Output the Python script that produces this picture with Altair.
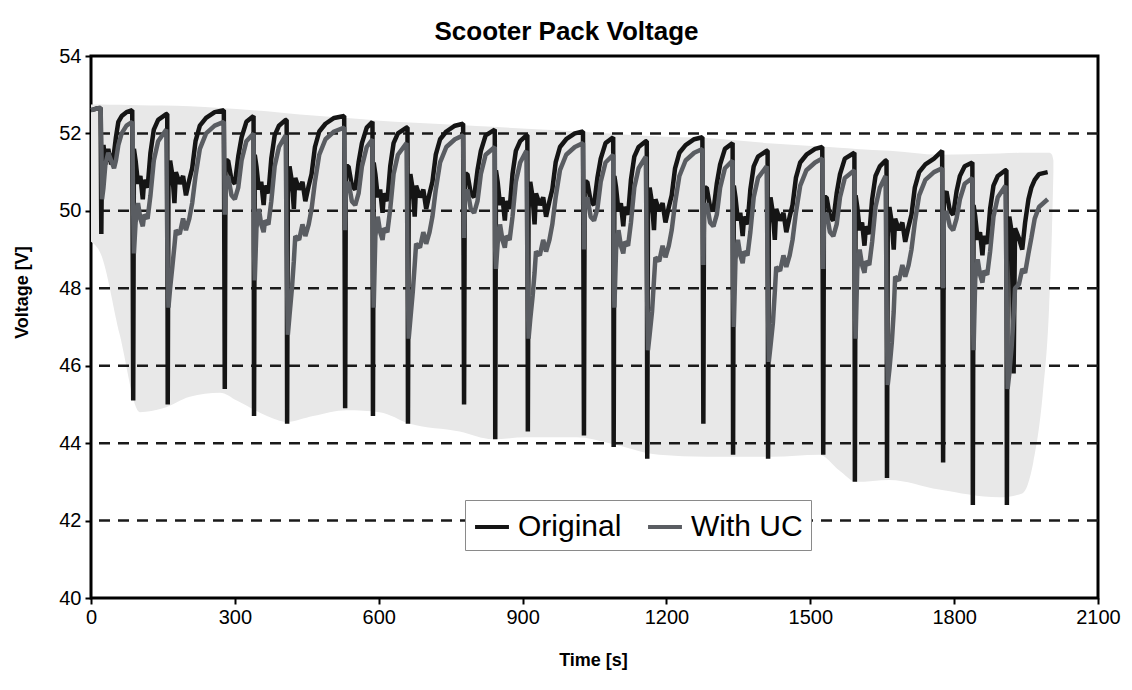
import altair as alt
import pandas as pd

time_s = [
    # start
    0, 6, 14, 20, 21.5, 23, 26, 30, 36, 42, 48, 52, 57, 64, 74, 86,
    # cycle 1
    88, 89.5, 93, 98, 103, 108, 111, 118, 124, 131, 140, 157, 159, 160, 161.5, 165, 170, 174, 177, 185, 192, 198, 205, 211, 218, 227, 240, 258, 277, 279, 280.5, 286, 293, 300, 307, 314, 324, 339,
    # cycle 2
    340, 341.5, 345, 350, 355, 360, 363, 370, 376, 383, 392, 406, 408, 409, 410.5, 414, 419, 423, 426, 434, 441, 447, 454, 460, 467, 476, 489, 507, 528, 530, 531.5, 537, 544, 551, 558, 565, 575, 587,
    # cycle 3
    588, 589.5, 593, 598, 603, 608, 611, 618, 624, 631, 640, 658, 660, 661, 662.5, 666, 671, 675, 678, 686, 693, 699, 706, 712, 719, 728, 741, 759, 776, 778, 779.5, 785, 792, 799, 806, 813, 823, 842,
    # cycle 4
    843, 844.5, 848, 853, 858, 863, 866, 873, 879, 886, 895, 908, 910, 911, 912.5, 916, 921, 925, 928, 936, 943, 949, 956, 962, 969, 978, 991, 1009, 1026, 1028, 1029.5, 1035, 1042, 1049, 1056, 1063, 1073, 1089,
    # cycle 5
    1090, 1091.5, 1095, 1100, 1105, 1110, 1113, 1120, 1126, 1133, 1142, 1157, 1159, 1160, 1161.5, 1165, 1170, 1174, 1177, 1185, 1192, 1198, 1205, 1211, 1218, 1227, 1240, 1258, 1275, 1277, 1278.5, 1284, 1291, 1298, 1305, 1312, 1322, 1338,
    # cycle 6
    1339, 1340.5, 1344, 1349, 1354, 1359, 1362, 1369, 1375, 1382, 1391, 1409, 1411, 1412, 1413.5, 1417, 1422, 1426, 1429, 1437, 1444, 1450, 1457, 1463, 1470, 1479, 1492, 1510, 1525, 1527, 1528.5, 1534, 1541, 1548, 1555, 1562, 1572, 1592,
    # cycle 7
    1593, 1594.5, 1598, 1603, 1608, 1613, 1616, 1623, 1629, 1636, 1645, 1657, 1659, 1660, 1661.5, 1665, 1670, 1674, 1677, 1685, 1692, 1698, 1705, 1711, 1718, 1727, 1740, 1758, 1775, 1777, 1778.5, 1784, 1791, 1798, 1805, 1812, 1822, 1838,
    # cycle 8
    1839, 1840.5, 1844, 1849, 1854, 1859, 1862, 1869, 1875, 1882, 1891, 1907, 1909, 1910, 1911.5, 1915, 1920, 1924, 1927, 1935, 1942, 1948, 1955, 1961, 1968, 1977, 1995,
]

original_v = [
    52.6, 52.62, 52.65, 52.66, 49.4, 51.5, 51.7, 51.2, 51.6, 51.2, 51.5, 51.9, 52.3, 52.45, 52.55, 52.6,
    45.1, 51.6, 51.3, 50.7, 50.9, 50.3, 50.8, 50.6, 51.5, 52.1, 52.35, 52.5, 52.5, 45.0, 50.6, 51.3, 50.9, 50.2, 51.0, 50.7, 50.9, 50.4, 50.8, 51.1, 51.8, 52.2, 52.4, 52.55, 52.6, 45.4, 51.3, 51.3, 50.8, 50.7, 51.4, 51.9, 52.3, 52.45,
    44.7, 51.45, 51.15, 50.55, 50.75, 50.15, 50.65, 50.45, 51.35, 51.95, 52.2, 52.35, 52.35, 44.5, 50.45, 51.15, 50.75, 50.05, 50.85, 50.55, 50.75, 50.25, 50.65, 50.95, 51.65, 52.05, 52.25, 52.4, 52.45, 44.9, 51.15, 51.15, 50.65, 50.55, 51.25, 51.75, 52.15, 52.3,
    44.7, 51.25, 50.95, 50.35, 50.55, 49.95, 50.45, 50.25, 51.15, 51.75, 52.0, 52.15, 52.15, 44.5, 50.25, 50.95, 50.55, 49.85, 50.65, 50.35, 50.55, 50.05, 50.45, 50.75, 51.45, 51.85, 52.05, 52.2, 52.25, 45.0, 50.95, 50.95, 50.45, 50.35, 51.05, 51.55, 51.95, 52.1,
    44.1, 51.05, 50.75, 50.15, 50.35, 49.75, 50.25, 50.05, 50.95, 51.55, 51.8, 51.95, 51.95, 44.3, 50.05, 50.75, 50.35, 49.65, 50.45, 50.15, 50.35, 49.85, 50.25, 50.55, 51.25, 51.65, 51.85, 52.0, 52.05, 44.2, 50.75, 50.75, 50.25, 50.15, 50.85, 51.35, 51.75, 51.9,
    43.9, 50.9, 50.6, 50.0, 50.2, 49.6, 50.1, 49.9, 50.8, 51.4, 51.65, 51.8, 51.8, 43.6, 49.9, 50.6, 50.2, 49.5, 50.3, 50.0, 50.2, 49.7, 50.1, 50.4, 51.1, 51.5, 51.7, 51.85, 51.9, 44.5, 50.6, 50.6, 50.1, 50.0, 50.7, 51.2, 51.6, 51.75,
    43.7, 50.65, 50.35, 49.75, 49.95, 49.35, 49.85, 49.65, 50.55, 51.15, 51.4, 51.55, 51.55, 43.6, 49.65, 50.35, 49.95, 49.25, 50.05, 49.75, 49.95, 49.45, 49.85, 50.15, 50.85, 51.25, 51.45, 51.6, 51.65, 43.7, 50.35, 50.35, 49.85, 49.75, 50.45, 50.95, 51.35, 51.5,
    43.0, 50.4, 50.1, 49.5, 49.7, 49.1, 49.6, 49.4, 50.3, 50.9, 51.15, 51.3, 51.3, 43.1, 49.4, 50.1, 49.7, 49.0, 49.8, 49.5, 49.7, 49.2, 49.6, 49.9, 50.6, 51.0, 51.2, 51.35, 51.55, 43.5, 50.4, 50.5, 50.0, 49.9, 50.5, 50.9, 51.15, 51.25,
    42.4, 50.15, 49.85, 49.25, 49.45, 48.85, 49.35, 49.15, 50.05, 50.65, 50.9, 51.05, 51.05, 42.4, 49.15, 49.85, 49.45, 45.8, 49.55, 49.3, 49.0, 49.7, 50.3, 50.6, 50.8, 50.95, 51.0,
]

with_uc_v = [
    52.6, 52.62, 52.65, 52.66, 51.8, 50.3, 50.6, 51.2, 51.5, 51.3, 51.1, 51.3, 51.7, 52.0, 52.2, 52.3,
    50.0, 48.9, 49.7, 50.2, 49.8, 49.6, 49.9, 49.8, 50.4, 51.3, 51.8, 52.1, 49.3, 48.5, 47.5, 48.0, 48.6, 49.1, 49.5, 49.4, 49.8, 49.5, 49.8, 50.2, 50.9, 51.6, 52.0, 52.2, 52.3, 49.9, 50.7, 50.9, 50.4, 50.3, 50.6, 51.3, 51.8, 52.0,
    49.0, 48.2, 49.55, 50.05, 49.65, 49.45, 49.75, 49.65, 50.25, 51.15, 51.65, 51.95, 49.0, 48.0, 46.8, 47.3, 48.0, 48.7, 49.35, 49.25, 49.65, 49.35, 49.65, 50.05, 50.75, 51.45, 51.85, 52.05, 52.15, 49.5, 50.55, 50.75, 50.25, 50.15, 50.45, 51.15, 51.65, 51.85,
    48.6, 47.5, 49.35, 49.85, 49.45, 49.25, 49.55, 49.45, 50.05, 50.95, 51.45, 51.75, 48.9, 47.9, 46.7, 47.2, 47.9, 48.6, 49.15, 49.05, 49.45, 49.15, 49.45, 49.85, 50.55, 51.25, 51.65, 51.85, 51.95, 49.3, 50.35, 50.55, 50.05, 49.95, 50.25, 50.95, 51.45, 51.65,
    49.0, 48.5, 49.15, 49.65, 49.25, 49.05, 49.35, 49.25, 49.85, 50.75, 51.25, 51.55, 48.7, 47.8, 46.7, 47.2, 47.8, 48.4, 48.95, 48.85, 49.25, 48.95, 49.25, 49.65, 50.35, 51.05, 51.45, 51.65, 51.75, 49.0, 50.15, 50.35, 49.85, 49.75, 50.05, 50.75, 51.25, 51.45,
    48.4, 47.5, 49.0, 49.5, 49.1, 48.9, 49.2, 49.1, 49.7, 50.6, 51.1, 51.4, 48.6, 47.6, 46.4, 46.8, 47.4, 48.2, 48.8, 48.7, 49.1, 48.8, 49.1, 49.5, 50.2, 50.9, 51.3, 51.5, 51.6, 48.6, 50.0, 50.2, 49.7, 49.6, 49.9, 50.6, 51.1, 51.3,
    48.0, 47.0, 48.75, 49.25, 48.85, 48.65, 48.95, 48.85, 49.45, 50.35, 50.85, 51.15, 48.3, 47.3, 46.1, 46.5, 47.1, 47.9, 48.55, 48.45, 48.85, 48.55, 48.85, 49.25, 49.95, 50.65, 51.05, 51.25, 51.35, 48.5, 49.75, 49.95, 49.45, 49.35, 49.65, 50.35, 50.85, 51.05,
    47.7, 46.7, 48.5, 49.0, 48.6, 48.4, 48.7, 48.6, 49.2, 50.1, 50.6, 50.9, 47.9, 46.8, 45.5, 45.9, 46.6, 47.4, 48.3, 48.2, 48.6, 48.3, 48.6, 49.0, 49.7, 50.4, 50.8, 51.0, 51.1, 48.0, 49.8, 50.0, 49.6, 49.5, 49.8, 50.3, 50.7, 50.85,
    47.4, 46.4, 48.25, 48.75, 48.35, 48.15, 48.45, 48.35, 48.95, 49.85, 50.35, 50.65, 48.3, 47.2, 45.4, 45.8, 46.5, 47.3, 48.0, 48.1, 48.5, 48.4, 48.9, 49.3, 49.8, 50.1, 50.3,
]

# light-grey shadow band behind the traces
band_t = [0, 20, 60, 102, 150, 206, 269, 304, 367, 408, 463, 533, 602, 665, 769, 838, 908, 1013,
          1081, 1185, 1283, 1421, 1519, 1560, 1596, 1665, 1769, 1894, 1942, 1965, 1985, 1998, 2004, 2007]
band_upper = [52.75, 52.75, 52.74, 52.73, 52.72, 52.7, 52.66, 52.63, 52.57, 52.52, 52.46, 52.4, 52.33,
              52.28, 52.22, 52.17, 52.12, 52.05, 52.0, 51.92, 51.88, 51.74, 51.66, 51.63, 51.6, 51.55,
              51.45, 51.48, 51.5, 51.5, 51.5, 51.5, 51.45, 51.3]
band_lower = [49.2, 48.9, 46.8, 44.8, 44.9, 45.2, 45.3, 45.1, 44.7, 44.55, 44.7, 44.85, 44.8, 44.5, 44.3,
              44.1, 44.15, 44.15, 44.0, 43.7, 43.65, 43.65, 43.7, 43.3, 43.0, 43.05, 42.8, 42.6, 42.7,
              43.5, 45.3, 47.5, 49.5, 51.0]

grid_levels = [42, 44, 46, 48, 50, 52]
x_ticks = [0, 300, 600, 900, 1200, 1500, 1800, 2100]
y_ticks = [40, 42, 44, 46, 48, 50, 52, 54]
series_names = ["Original", "With UC"]
series_colors = ["#151515", "#5a5d62"]

assert len(time_s) == len(original_v) == len(with_uc_v)
assert len(band_t) == len(band_upper) == len(band_lower)

FONT = "Liberation Sans"

traces = pd.DataFrame({"t": time_s, "Original": original_v, "With UC": with_uc_v}).melt(
    "t", var_name="series", value_name="v")
band = pd.DataFrame({"t": band_t, "upper": band_upper, "lower": band_lower})
grid = pd.DataFrame({"v": grid_levels})

x_scale = alt.Scale(domain=[0, 2100], nice=False, zero=False)
y_scale = alt.Scale(domain=[40, 54], nice=False, zero=False)

x_axis = alt.Axis(values=x_ticks, format="d", labelFlush=False, title="Time [s]",
                  titleX=502, titleY=62, titleBaseline="middle", titleAlign="center",
                  labelPadding=3)
y_axis = alt.Axis(values=y_ticks, format="d", labelFlush=False, title="Voltage [V]",
                  titleX=-69, titleY=236, titleAngle=-90, titleBaseline="middle",
                  titleAlign="center", labelPadding=4)


def xenc(field):
    return alt.X(field, scale=x_scale, axis=x_axis)


def yenc(field):
    return alt.Y(field, scale=y_scale, axis=y_axis)


shade = alt.Chart(band).mark_area(color="#e8e8e8", interpolate="monotone").encode(
    x=xenc("t:Q"),
    y=yenc("upper:Q"),
    y2="lower:Q",
)

gridlines = alt.Chart(grid).mark_rule(strokeDash=[11, 8], strokeWidth=2.5, color="#1a1a1a").encode(
    y=yenc("v:Q")
)

color_enc = alt.Color(
    "series:N",
    scale=alt.Scale(domain=series_names, range=series_colors),
    title=None,
    legend=alt.Legend(
        orient="none", legendX=374, legendY=444, direction="horizontal",
        symbolType="stroke", symbolSize=1150, symbolStrokeWidth=4,
        labelFont=FONT, labelFontSize=30, labelColor="black", labelOffset=7,
        columnPadding=18, padding=8, strokeColor="#8a8a8a", fillColor="white",
    ),
)

orig_line = alt.Chart(traces).transform_filter(alt.datum.series == "Original").mark_line(
    strokeWidth=4.5, strokeJoin="bevel").encode(
    x=xenc("t:Q"),
    y=yenc("v:Q"),
    color=color_enc,
)

uc_line = alt.Chart(traces).transform_filter(alt.datum.series == "With UC").mark_line(
    strokeWidth=4.5, strokeJoin="bevel").encode(
    x=xenc("t:Q"),
    y=yenc("v:Q"),
    color=color_enc,
)

chart = alt.layer(shade, gridlines, orig_line, uc_line).properties(
    width=1007,
    height=542,
    autosize=alt.AutoSizeParams(type="none"),
    padding={"left": 83, "top": 48, "right": 24, "bottom": 78},
    title=alt.TitleParams("Scooter Pack Voltage", font=FONT, fontSize=26, fontWeight="bold",
                          anchor="middle", offset=1, dx=-28, color="black"),
).configure_view(
    stroke="black", strokeWidth=3
).configure_axis(
    labelFont=FONT, labelFontSize=20, labelColor="black",
    titleFont=FONT, titleFontSize=18, titleFontWeight="bold", titleColor="black",
    tickColor="black", tickWidth=2, tickSize=6, domain=False, grid=False,
)

chart.save("out.html", embed_options={"renderer": "svg", "actions": False})
